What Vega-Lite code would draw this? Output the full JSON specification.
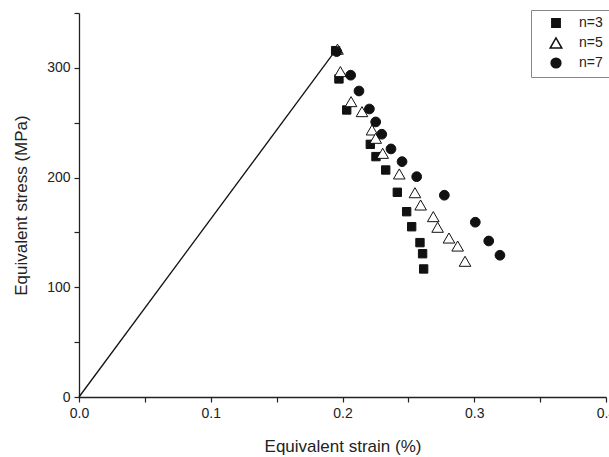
{
  "$schema": "https://vega.github.io/schema/vega-lite/v6.json",
  "width": 527,
  "height": 384,
  "autosize": "none",
  "padding": {"left": 79, "top": 13, "right": 3, "bottom": 60},
  "background": "white",
  "config": {
    "view": {"stroke": null},
    "font": "Liberation Sans",
    "axis": {
      "domainColor": "#222",
      "tickColor": "#222",
      "labelColor": "#222",
      "titleColor": "#222",
      "labelFont": "Liberation Sans",
      "titleFont": "Liberation Sans",
      "labelFontSize": 14,
      "titleFontSize": 17,
      "titleFontWeight": "normal",
      "grid": false,
      "tickSize": 5,
      "domainWidth": 1.3,
      "tickWidth": 1.2
    },
    "legend": {
      "orient": "none",
      "legendX": 452,
      "legendY": -3,
      "strokeColor": "#888",
      "padding": 6,
      "labelFont": "Liberation Sans",
      "labelFontSize": 14,
      "labelColor": "#222",
      "rowPadding": 3,
      "labelOffset": 16,
      "symbolOffset": 12
    }
  },
  "datasets": {
    "elastic": [
      {"strain": 0, "stress": 0},
      {"strain": 0.196, "stress": 318}
    ],
    "pts": [
      {"series": "n=3", "strain": 0.1948, "stress": 315.7},
      {"series": "n=3", "strain": 0.1973, "stress": 289.9},
      {"series": "n=3", "strain": 0.2032, "stress": 261.6},
      {"series": "n=3", "strain": 0.2211, "stress": 230.3},
      {"series": "n=3", "strain": 0.2254, "stress": 219.1},
      {"series": "n=3", "strain": 0.2328, "stress": 206.9},
      {"series": "n=3", "strain": 0.2416, "stress": 186.6},
      {"series": "n=3", "strain": 0.2487, "stress": 168.9},
      {"series": "n=3", "strain": 0.2525, "stress": 155.2},
      {"series": "n=3", "strain": 0.2588, "stress": 140.7},
      {"series": "n=3", "strain": 0.2608, "stress": 130.6},
      {"series": "n=3", "strain": 0.2616, "stress": 116.7},
      {"series": "n=5", "strain": 0.1962, "stress": 317.0},
      {"series": "n=5", "strain": 0.1984, "stress": 296.6},
      {"series": "n=5", "strain": 0.2065, "stress": 269.2},
      {"series": "n=5", "strain": 0.2148, "stress": 260.1},
      {"series": "n=5", "strain": 0.2224, "stress": 243.4},
      {"series": "n=5", "strain": 0.2252, "stress": 235.8},
      {"series": "n=5", "strain": 0.2305, "stress": 222.1},
      {"series": "n=5", "strain": 0.2431, "stress": 203.3},
      {"series": "n=5", "strain": 0.2550, "stress": 186.2},
      {"series": "n=5", "strain": 0.2593, "stress": 175.0},
      {"series": "n=5", "strain": 0.2689, "stress": 164.4},
      {"series": "n=5", "strain": 0.2722, "stress": 154.7},
      {"series": "n=5", "strain": 0.2808, "stress": 144.9},
      {"series": "n=5", "strain": 0.2874, "stress": 137.6},
      {"series": "n=5", "strain": 0.2930, "stress": 123.7},
      {"series": "n=7", "strain": 0.1956, "stress": 314.8},
      {"series": "n=7", "strain": 0.2062, "stress": 293.3},
      {"series": "n=7", "strain": 0.2125, "stress": 278.9},
      {"series": "n=7", "strain": 0.2204, "stress": 262.5},
      {"series": "n=7", "strain": 0.2252, "stress": 250.7},
      {"series": "n=7", "strain": 0.2298, "stress": 239.5},
      {"series": "n=7", "strain": 0.2368, "stress": 226.1},
      {"series": "n=7", "strain": 0.2452, "stress": 214.5},
      {"series": "n=7", "strain": 0.2563, "stress": 200.8},
      {"series": "n=7", "strain": 0.2773, "stress": 183.9},
      {"series": "n=7", "strain": 0.3008, "stress": 159.3},
      {"series": "n=7", "strain": 0.3110, "stress": 142.2},
      {"series": "n=7", "strain": 0.3195, "stress": 129.2}
    ]
  },
  "encoding": {
    "x": {
      "field": "strain",
      "type": "quantitative",
      "title": "Equivalent strain (%)",
      "scale": {"domain": [0, 0.4], "nice": false, "zero": false},
      "axis": {
        "values": [0, 0.05, 0.1, 0.15, 0.2, 0.25, 0.3, 0.35, 0.4],
        "labelExpr": "round(datum.value*20) % 2 == 0 ? format(datum.value, '.1f') : ''",
        "labelPadding": 4,
        "titlePadding": 18,
        "labelFlush": false,
        "labelOverlap": false
      }
    },
    "y": {
      "field": "stress",
      "type": "quantitative",
      "title": "Equivalent stress (MPa)",
      "scale": {"domain": [0, 350], "nice": false},
      "axis": {
        "values": [0, 50, 100, 150, 200, 250, 300, 350],
        "labelExpr": "round(datum.value/50) % 2 == 0 && datum.value < 350 ? format(datum.value, 'd') : ''",
        "labelPadding": 4,
        "titlePadding": 16,
        "labelFlush": false,
        "labelOverlap": false
      }
    }
  },
  "layer": [
    {
      "data": {"name": "elastic"},
      "mark": {"type": "line", "color": "#111", "strokeWidth": 1.3},
      "encoding": {}
    },
    {
      "data": {"name": "pts"},
      "mark": {"type": "point", "filled": false, "strokeWidth": 1, "opacity": 1},
      "encoding": {
        "shape": {
          "field": "series",
          "type": "nominal",
          "title": null,
          "scale": {"domain": ["n=3", "n=5", "n=7"], "range": ["square", "triangle-up", "circle"]}
        },
        "fill": {
          "field": "series",
          "type": "nominal",
          "title": null,
          "scale": {"domain": ["n=3", "n=5", "n=7"], "range": ["#111", "white", "#111"]}
        },
        "stroke": {
          "field": "series",
          "type": "nominal",
          "title": null,
          "scale": {"domain": ["n=3", "n=5", "n=7"], "range": ["#111", "#111", "#111"]}
        },
        "size": {
          "field": "series",
          "type": "nominal",
          "title": null,
          "scale": {"type": "ordinal", "domain": ["n=3", "n=5", "n=7"], "range": [70, 135, 95]}
        }
      }
    }
  ]
}
